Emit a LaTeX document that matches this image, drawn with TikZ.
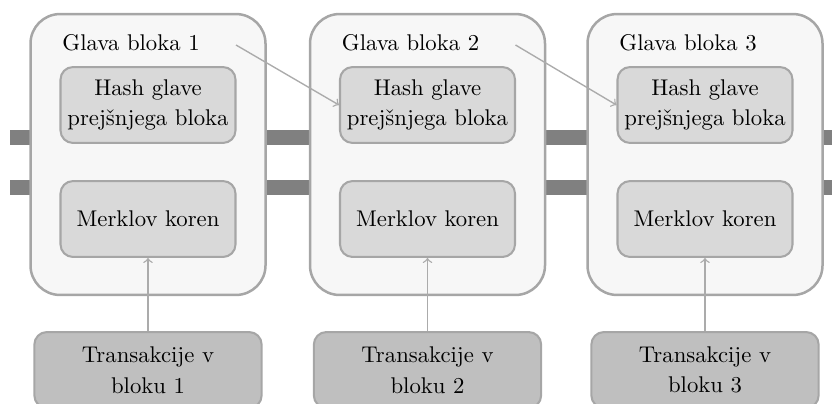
\documentclass[tikz,border=0pt]{standalone}
\usetikzlibrary{positioning}
\definecolor{blockfill}{HTML}{F7F7F7}
\definecolor{edgegray}{HTML}{A6A6A6}
\definecolor{innerfill}{HTML}{D9D9D9}
\definecolor{txfill}{HTML}{BFBFBF}
\definecolor{bargray}{HTML}{808080}
\definecolor{arrgray}{HTML}{ABABAB}
\tikzset{
  blockbox/.style={draw=edgegray, fill=blockfill, line width=1.1pt, rounded corners=13pt,
    minimum width=103.4pt, minimum height=123.6pt, inner sep=0pt},
  innerbox/.style={draw=edgegray, fill=innerfill, line width=0.9pt, rounded corners=5.5pt,
    minimum width=77pt, minimum height=33.4pt, inner sep=0pt, align=center,
    font=\fontsize{10}{13.4}\selectfont},
  txbox/.style={draw=edgegray, fill=txfill, line width=0.9pt, rounded corners=5.5pt,
    minimum width=100pt, minimum height=33.4pt, inner sep=0pt, align=center,
    font=\fontsize{10}{13.4}\selectfont},
  titletext/.style={inner sep=0pt, anchor=base west, font=\fontsize{10}{12}\selectfont},
  bar/.style={draw=bargray, line width=6.6pt},
  link/.style={draw=arrgray, line width=0.6pt, ->},
}
\begin{document}
\begin{tikzpicture}[x=0.44pt, y=-0.44pt]
\useasboundingbox (0,0) rectangle (832,403);
\clip (0,0) rectangle (832,403);
% chain bars
\coordinate (barAl) at (10,137.5);
\coordinate (barAr) at (832,137.5);
\coordinate (barBl) at (10,187.5);
\coordinate (barBr) at (832,187.5);
\draw[bar] (barAl) -- (barAr);
\draw[bar] (barBl) -- (barBr);
% blocks
\foreach \i/\cx in {1/148, 2/427.5, 3/705} {
  \node[blockbox] (blk\i) at (\cx,154.5) {};
  \node[titletext] (title\i) at (\cx-86,50) {Glava bloka \i};
  \node[innerbox] (hash\i) at (\cx,105) {Hash glave\\prejšnjega bloka};
  \node[innerbox] (merk\i) at (\cx,219) {Merklov koren};
  \node[txbox] (tx\i) at (\cx,370) {Transakcije v\\bloku \i};
  \coordinate (src\i) at (\cx+88,45);
  \draw[link] (tx\i.north) -- (merk\i.south);
}
\draw[link] (src1) -- (hash2.west);
\draw[link] (src2) -- (hash3.west);
\end{tikzpicture}
\end{document}
